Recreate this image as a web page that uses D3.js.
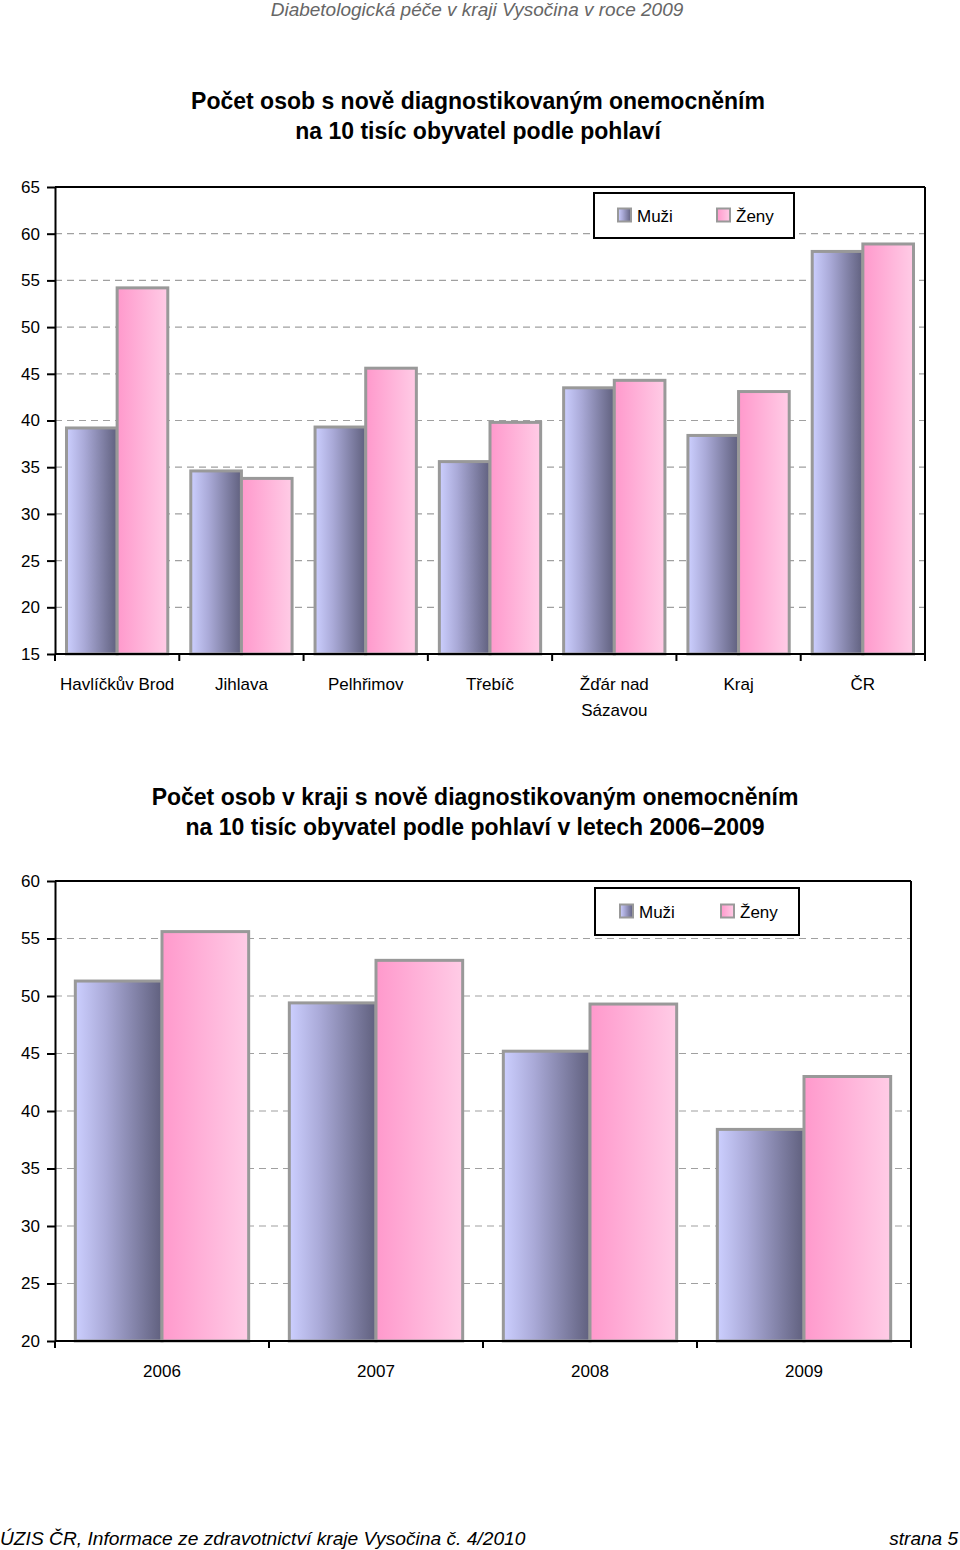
<!DOCTYPE html>
<html><head><meta charset="utf-8">
<script src="https://cdn.jsdelivr.net/npm/d3@7/dist/d3.min.js"></script>
<style>
html,body{margin:0;padding:0;background:#fff;}
svg{display:block;}
</style></head>
<body>
<svg id="c" width="960" height="1550"></svg>
<script>
const headerText = "Diabetologická péče v kraji Vysočina v roce 2009";
const footerLeft = "ÚZIS ČR, Informace ze zdravotnictví kraje Vysočina č. 4/2010";
const footerRight = "strana 5";

const seriesNames = ["Muži", "Ženy"];

const title1 = ["Počet osob s nově diagnostikovaným onemocněním", "na 10 tisíc obyvatel podle pohlaví"];
const regions = ["Havlíčkův Brod", "Jihlava", "Pelhřimov", "Třebíč", "Žďár nad Sázavou", "Kraj", "ČR"];
const regionLabelLines = [["Havlíčkův Brod"], ["Jihlava"], ["Pelhřimov"], ["Třebíč"], ["Žďár nad", "Sázavou"], ["Kraj"], ["ČR"]];
const muziRegion = [39.2, 34.6, 39.3, 35.6, 43.5, 38.4, 58.1];
const zenyRegion = [54.2, 33.8, 45.6, 39.8, 44.3, 43.1, 58.9];
const yTicks1 = [15, 20, 25, 30, 35, 40, 45, 50, 55, 60, 65];

const title2 = ["Počet osob v kraji s nově diagnostikovaným onemocněním", "na 10 tisíc obyvatel podle pohlaví v letech 2006–2009"];
const years = ["2006", "2007", "2008", "2009"];
const muziYear = [51.3, 49.4, 45.2, 38.4];
const zenyYear = [55.6, 53.1, 49.3, 43.0];
const yTicks2 = [20, 25, 30, 35, 40, 45, 50, 55, 60];

const svg = d3.select("#c");
const FONT = "'Liberation Sans', Arial, sans-serif";
const TICK_SIZE = 17;

// gradients
const defs = svg.append("defs");
const gM = defs.append("linearGradient").attr("id", "gM").attr("x1", "0").attr("x2", "1").attr("y1", "0").attr("y2", "0");
gM.append("stop").attr("offset", "0%").attr("stop-color", "#cccfff");
gM.append("stop").attr("offset", "35%").attr("stop-color", "#aaaad8");
gM.append("stop").attr("offset", "100%").attr("stop-color", "#60607e");
const gZ = defs.append("linearGradient").attr("id", "gZ").attr("x1", "0").attr("x2", "1").attr("y1", "0").attr("y2", "0");
gZ.append("stop").attr("offset", "0%").attr("stop-color", "#ff99cc");
gZ.append("stop").attr("offset", "100%").attr("stop-color", "#ffcce6");
const fills = ["url(#gM)", "url(#gZ)"];

// header / footer
svg.append("text").attr("x", 477).attr("y", 16).attr("text-anchor", "middle")
  .attr("font-family", FONT).attr("font-style", "italic").attr("font-size", 19)
  .attr("fill", "#666").text(headerText);
svg.append("text").attr("x", 0).attr("y", 1545)
  .attr("font-family", FONT).attr("font-style", "italic").attr("font-size", 19.2)
  .attr("fill", "#000").text(footerLeft);
svg.append("text").attr("x", 958).attr("y", 1545).attr("text-anchor", "end")
  .attr("font-family", FONT).attr("font-style", "italic").attr("font-size", 19)
  .attr("fill", "#000").text(footerRight);

function drawChart(cfg) {
  const g = svg.append("g");
  // title
  cfg.title.forEach((t, i) => {
    g.append("text").attr("x", cfg.titleX).attr("y", cfg.titleY + i * 30).attr("text-anchor", "middle")
      .attr("font-family", FONT).attr("font-weight", "bold").attr("font-size", 23).attr("fill", "#000").text(t);
  });
  const x = d3.scaleBand().domain(cfg.cats).range([cfg.left, cfg.right]).paddingInner(cfg.pad).paddingOuter(cfg.pad / 2);
  const xs = d3.scaleBand().domain(seriesNames).range([0, x.bandwidth()]);
  const y = d3.scaleLinear().domain([cfg.yTicks[0], cfg.yTicks[cfg.yTicks.length - 1]]).range([cfg.bottom, cfg.top]);

  // gridlines
  g.append("g").selectAll("line").data(cfg.yTicks.slice(1, -1)).join("line")
    .attr("x1", cfg.left).attr("x2", cfg.right).attr("y1", d => y(d)).attr("y2", d => y(d))
    .attr("stroke", "#a0a0a0").attr("stroke-width", 1.2).attr("stroke-dasharray", "7,5");

  // frame top/right
  g.append("line").attr("x1", cfg.left).attr("x2", cfg.right).attr("y1", cfg.top).attr("y2", cfg.top)
    .attr("stroke", "#000").attr("stroke-width", 2);
  g.append("line").attr("x1", cfg.right).attr("x2", cfg.right).attr("y1", cfg.top).attr("y2", cfg.bottom)
    .attr("stroke", "#000").attr("stroke-width", 2);

  // legend
  const lg = g.append("g").attr("transform", `translate(${cfg.legend[0]},${cfg.legend[1]})`);
  lg.append("rect").attr("width", cfg.legend[2]).attr("height", cfg.legend[3]).attr("fill", "#fff")
    .attr("stroke", "#000").attr("stroke-width", 2);
  seriesNames.forEach((s, i) => {
    const ox = cfg.legendItemX[i];
    lg.append("rect").attr("x", ox).attr("y", cfg.legend[3] / 2 - 7).attr("width", 13).attr("height", 13)
      .attr("fill", fills[i]).attr("stroke", "#999").attr("stroke-width", 2);
    lg.append("text").attr("x", ox + 19).attr("y", cfg.legend[3] / 2 + 6)
      .attr("font-family", FONT).attr("font-size", TICK_SIZE).attr("fill", "#000").text(s);
  });

  // bars
  const vals = [cfg.muzi, cfg.zeny];
  const data = [];
  cfg.cats.forEach((c, i) => seriesNames.forEach((s, j) => data.push({ c, s, j, v: vals[j][i] })));
  g.append("g").selectAll("rect").data(data).join("rect")
    .attr("x", d => x(d.c) + xs(d.s))
    .attr("width", xs.bandwidth())
    .attr("y", d => y(d.v))
    .attr("height", d => cfg.bottom - y(d.v))
    .attr("fill", d => fills[d.j])
    .attr("stroke", "#999").attr("stroke-width", 3);

  // y axis
  const ya = g.append("g").attr("transform", `translate(${cfg.left},0)`)
    .call(d3.axisLeft(y).tickValues(cfg.yTicks).tickSize(8).tickSizeOuter(0).tickPadding(7));
  ya.select(".domain").attr("stroke", "#000").attr("stroke-width", 2);
  ya.selectAll(".tick line").attr("stroke", "#000").attr("stroke-width", 2);
  ya.selectAll(".tick text").attr("font-family", FONT).attr("font-size", TICK_SIZE).attr("fill", "#000");

  // x axis
  const bounds = cfg.cats.map(c => x(c) - x.step() * cfg.pad / 2).concat([cfg.right]);
  g.append("line").attr("x1", cfg.left).attr("x2", cfg.right).attr("y1", cfg.bottom).attr("y2", cfg.bottom)
    .attr("stroke", "#000").attr("stroke-width", 2);
  g.append("g").selectAll("line").data(bounds).join("line")
    .attr("x1", d => d).attr("x2", d => d).attr("y1", cfg.bottom).attr("y2", cfg.bottom + 7)
    .attr("stroke", "#000").attr("stroke-width", 2);
  const xl = g.append("g").selectAll("text").data(cfg.cats).join("text")
    .attr("x", c => x(c) + x.bandwidth() / 2).attr("y", cfg.bottom + cfg.xLabelDy)
    .attr("text-anchor", "middle").attr("font-family", FONT).attr("font-size", TICK_SIZE).attr("fill", "#000");
  xl.each(function (c, i) {
    const lines = cfg.labelLines ? cfg.labelLines[i] : [c];
    d3.select(this).selectAll("tspan").data(lines).join("tspan")
      .attr("x", x(c) + x.bandwidth() / 2).attr("dy", (d, k) => k === 0 ? 0 : 26).text(d => d);
  });
}

drawChart({
  title: title1, titleX: 478, titleY: 109,
  cats: regions, labelLines: regionLabelLines, muzi: muziRegion, zeny: zenyRegion, yTicks: yTicks1,
  left: 55, right: 925, top: 187, bottom: 654, pad: 0.185,
  legend: [594, 193, 200, 45], legendItemX: [24, 123], xLabelDy: 36
});
drawChart({
  title: title2, titleX: 475, titleY: 805,
  cats: years, muzi: muziYear, zeny: zenyYear, yTicks: yTicks2,
  left: 55, right: 911, top: 881, bottom: 1341, pad: 0.19,
  legend: [595, 888, 204, 47], legendItemX: [25, 126], xLabelDy: 36
});
</script>
</body></html>
